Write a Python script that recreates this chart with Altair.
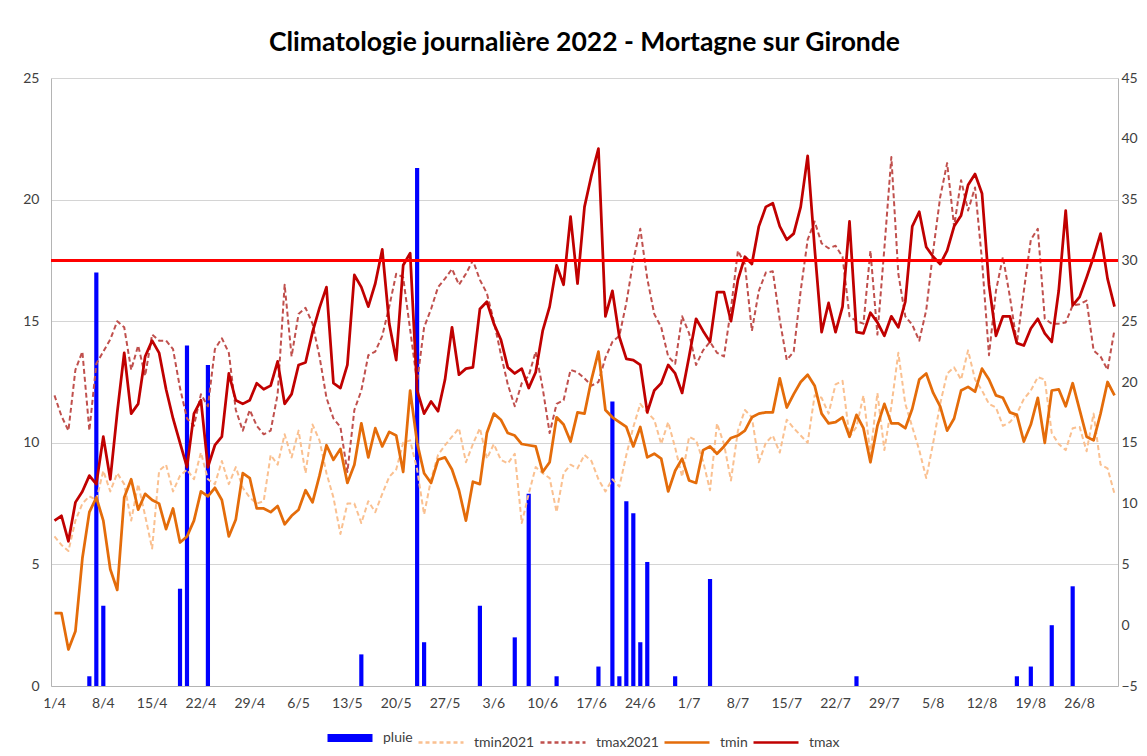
import altair as alt
import pandas as pd

# ---------------- data ----------------
dates = pd.date_range("2022-04-01", "2022-08-31", freq="D")
day_labels = [f"{d.day}/{d.month}" for d in dates]

tick_labels = ["1/4", "8/4", "15/4", "22/4", "29/4", "6/5", "13/5", "20/5", "27/5",
               "3/6", "10/6", "17/6", "24/6", "1/7", "8/7", "15/7", "22/7", "29/7",
               "5/8", "12/8", "19/8", "26/8"]

series_names = ["pluie", "tmin2021", "tmax2021", "tmin", "tmax"]
series_colors = ["#0000FF", "#FAC090", "#C0504D", "#E46C0A", "#C00000"]

rain_dates = ["6/4", "7/4", "8/4", "19/4", "20/4", "23/4", "15/5", "23/5", "24/5",
              "1/6", "6/6", "8/6", "12/6", "18/6", "20/6", "21/6", "22/6", "23/6",
              "24/6", "25/6", "29/6", "4/7", "25/7", "17/8", "19/8", "22/8", "25/8"]
rain_mm = [0.4, 17.0, 3.3, 4.0, 14.0, 13.2, 1.3, 21.3, 1.8,
           3.3, 2.0, 7.9, 0.4, 0.8, 11.7, 0.4, 7.6, 7.1,
           1.8, 5.1, 0.4, 4.4, 0.4, 0.4, 0.8, 2.5, 4.1]

tmax = [8.6, 9.0, 6.9, 10.1, 11.0, 12.3, 11.6, 15.5, 12.0, 17.5,
        22.4, 17.4, 18.2, 22.1, 23.4, 22.4, 19.4, 17.0, 15.0, 13.0,
        17.4, 18.5, 13.0, 14.8, 15.5, 20.7, 18.5, 18.2, 18.5, 19.9,
        19.4, 19.7, 21.7, 18.2, 19.0, 21.4, 21.6, 24.1, 26.1, 27.8,
        19.9, 19.5, 21.4, 28.8, 27.8, 26.2, 28.1, 30.9, 24.8, 21.8,
        29.6, 30.6, 19.3, 17.4, 18.4, 17.6, 20.2, 24.5, 20.6, 21.1,
        21.2, 26.0, 26.6, 24.8, 23.5, 21.2, 20.7, 21.1, 19.5, 20.8,
        24.2, 26.2, 29.6, 28.0, 33.6, 28.1, 34.4, 37.0, 39.2, 25.4,
        27.5, 23.7, 21.9, 21.8, 21.4, 17.5, 19.3, 19.9, 21.4, 20.7,
        19.1, 22.1, 25.2, 24.2, 23.3, 27.4, 27.4, 25.0, 28.4, 30.3,
        29.7, 32.8, 34.4, 34.7, 32.8, 31.7, 32.2, 34.4, 38.6, 31.0,
        24.1, 26.5, 24.1, 26.2, 33.2, 24.1, 24.0, 25.7, 24.9, 23.8,
        25.4, 24.5, 26.6, 32.8, 34.0, 31.1, 30.3, 29.7, 30.8, 32.8,
        33.7, 36.2, 37.1, 35.5, 28.0, 23.8, 25.4, 25.4, 23.2, 23.0,
        24.4, 25.2, 24.0, 23.3, 27.5, 34.1, 26.3, 27.0, 28.6, 30.3,
        32.2, 28.5, 26.2]

tmax2021 = [18.9, 17.2, 16.0, 21.0, 22.5, 16.0, 21.5, 22.5, 23.5, 25.0,
            24.5, 21.0, 23.0, 20.5, 23.9, 23.4, 23.4, 22.7, 19.5, 17.0,
            16.4, 19.0, 18.0, 22.7, 23.6, 22.4, 17.7, 16.0, 17.7, 16.4,
            15.7, 16.0, 19.0, 28.0, 22.1, 25.6, 26.1, 24.8, 22.1, 18.7,
            17.0, 16.3, 12.6, 17.7, 19.3, 22.2, 22.5, 23.8, 26.2, 28.9,
            28.6, 24.3, 20.0, 24.5, 26.0, 27.8, 28.5, 29.3, 28.0, 28.9,
            30.0, 28.4, 27.3, 25.0, 22.3, 19.8, 18.0, 19.9, 20.5, 22.5,
            19.5, 15.8, 18.2, 18.5, 21.0, 20.8, 20.3, 19.7, 20.0, 22.0,
            23.3, 23.8, 26.5, 30.0, 32.6, 28.5, 25.6, 24.5, 22.1, 21.5,
            25.4, 24.0, 21.4, 22.6, 23.3, 22.4, 22.1, 26.0, 30.8, 29.7,
            24.2, 27.5, 29.0, 29.1, 25.1, 21.8, 22.5, 27.5, 31.7, 33.2,
            31.4, 31.0, 31.2, 30.3, 25.4, 25.0, 24.8, 30.8, 23.9, 31.0,
            38.5, 28.9, 25.4, 24.7, 23.4, 25.9, 30.8, 35.2, 38.0, 32.8,
            36.6, 34.1, 36.0, 30.0, 22.2, 27.5, 30.3, 27.0, 23.2, 27.5,
            31.7, 32.6, 25.2, 24.8, 24.8, 24.9, 26.3, 26.4, 26.7, 22.6,
            22.1, 21.0, 24.3]

tmin = [1.0, 1.0, -2.0, -0.5, 5.5, 9.3, 10.5, 8.6, 4.6, 2.9,
        10.5, 12.0, 9.5, 10.8, 10.3, 10.0, 7.9, 9.6, 6.8, 7.3,
        8.6, 11.0, 10.6, 11.3, 10.3, 7.3, 8.7, 12.5, 12.1, 9.6,
        9.6, 9.3, 9.8, 8.3, 9.0, 9.5, 11.1, 10.1, 12.3, 14.8,
        13.6, 14.5, 11.7, 13.2, 16.6, 13.8, 16.2, 14.7, 15.9, 15.6,
        12.6, 19.3, 15.0, 12.5, 11.7, 13.6, 13.8, 12.8, 11.1, 8.6,
        11.8, 11.6, 15.8, 17.4, 16.9, 15.8, 15.6, 14.9, 14.8, 14.7,
        12.6, 13.4, 17.1, 16.5, 15.1, 17.5, 17.4, 20.2, 22.5, 17.7,
        17.1, 16.7, 16.3, 14.7, 16.3, 13.8, 14.1, 13.7, 11.0, 12.7,
        13.7, 11.9, 11.7, 14.4, 14.7, 14.1, 14.7, 15.4, 15.6, 16.0,
        17.1, 17.4, 17.5, 17.5, 20.3, 17.9, 19.0, 20.0, 20.6, 19.7,
        17.4, 16.6, 16.7, 17.1, 15.5, 17.3, 16.2, 13.4, 16.4, 18.2,
        16.6, 16.6, 16.2, 17.8, 20.2, 20.7, 19.1, 18.0, 16.0, 17.0,
        19.3, 19.6, 19.2, 21.1, 20.2, 18.9, 18.7, 17.5, 17.3, 15.1,
        16.5, 18.7, 15.0, 19.3, 19.4, 18.0, 19.9, 17.7, 15.5, 15.2,
        17.4, 20.0, 18.9]

tmin2021 = [7.3, 6.6, 6.1, 8.6, 10.0, 10.6, 10.3, 12.7, 11.0, 12.5,
            11.6, 8.6, 11.6, 9.0, 6.3, 12.7, 13.2, 11.0, 12.3, 12.8,
            12.0, 14.2, 12.0, 11.6, 13.5, 11.6, 13.0, 11.3, 10.5, 10.0,
            10.2, 14.0, 13.2, 15.7, 13.8, 16.0, 12.5, 16.5, 15.2, 12.5,
            10.5, 7.5, 10.0, 10.0, 8.4, 10.2, 9.3, 10.8, 12.2, 12.8,
            15.0, 15.2, 12.8, 9.1, 12.0, 14.0, 14.8, 15.5, 16.2, 13.4,
            14.9, 16.2, 13.7, 14.9, 13.6, 13.3, 14.1, 8.4, 10.8, 13.0,
            12.5, 12.1, 9.3, 12.5, 13.2, 12.9, 14.0, 13.5, 12.0, 11.0,
            12.0, 11.4, 14.0, 16.3, 18.2, 17.5, 16.9, 14.9, 16.7, 14.6,
            12.2, 15.5, 15.2, 13.5, 11.1, 16.6, 14.9, 11.9, 16.0, 17.7,
            17.1, 13.4, 15.0, 15.6, 14.2, 16.9, 16.2, 15.6, 15.0, 18.9,
            18.7, 17.4, 19.8, 20.1, 15.5, 16.3, 18.9, 14.0, 19.1, 14.4,
            18.0, 22.4, 18.2, 16.3, 14.4, 12.1, 15.0, 18.2, 20.7, 21.2,
            20.2, 22.6, 20.2, 19.3, 18.2, 17.9, 16.4, 16.7, 17.4, 18.6,
            19.3, 20.4, 20.2, 15.8, 14.9, 14.4, 16.2, 16.3, 14.3, 17.4,
            13.2, 12.9, 10.8]

threshold = [30]

# ---------------- tables ----------------
temps = pd.DataFrame({
    "date": day_labels * 4,
    "series": ["tmin2021"] * len(day_labels) + ["tmax2021"] * len(day_labels)
              + ["tmin"] * len(day_labels) + ["tmax"] * len(day_labels),
    "value": tmin2021 + tmax2021 + tmin + tmax,
})
rain = pd.DataFrame({"date": rain_dates, "series": "pluie", "value": rain_mm})
thr = pd.DataFrame({"value": threshold})

FONT = "Lato"
LABEL_COLOR = "#404040"
AXIS_LINE = "#b4b4b4"
GRID = "#d4d4d4"

x_enc = alt.X(
    "date:O",
    sort=day_labels,
    scale=alt.Scale(domain=day_labels, paddingInner=0.4),
    axis=alt.Axis(values=tick_labels, labelAngle=0, title=None, ticks=False,
                  domainColor=AXIS_LINE, labelColor=LABEL_COLOR, labelFont=FONT,
                  labelFontSize=14, labelPadding=10, labelOverlap=False, grid=False),
)

legend = alt.Legend(
    title=None, orient="none", direction="horizontal", legendX=292, legendY=653,
    symbolType="stroke", symbolSize=2025, padding=0,
    symbolStrokeColor=alt.ExprRef(expr="scale('color', datum.value)"),
    symbolStrokeWidth=alt.ExprRef(expr="datum.value == 'pluie' ? 8 : 2.5"),
    symbolDash=alt.ExprRef(expr="indexof(datum.value, '2021') >= 0 ? [4, 3] : [1, 0]"),
    labelFont=FONT, labelFontSize=14, labelColor=LABEL_COLOR,
    labelOffset=26, columnPadding=0,
)
color_enc = alt.Color("series:N",
                      scale=alt.Scale(domain=series_names, range=series_colors),
                      legend=legend)

bars = alt.Chart(rain).mark_bar(opacity=1).encode(
    x=x_enc,
    y=alt.Y("value:Q", scale=alt.Scale(domain=[0, 25]),
            axis=alt.Axis(values=[0, 5, 10, 15, 20, 25], title=None, ticks=False,
                          grid=True, gridColor=GRID, domainColor=AXIS_LINE,
                          labelColor=LABEL_COLOR, labelFont=FONT, labelFontSize=14,
                          labelPadding=12)),
    color=color_enc,
)

y_temp = alt.Y("value:Q", scale=alt.Scale(domain=[-5, 45]),
               axis=alt.Axis(orient="right", values=list(range(-5, 50, 5)), title=None,
                             ticks=False, grid=False, domainColor=AXIS_LINE,
                             labelColor=LABEL_COLOR, labelFont=FONT, labelFontSize=14,
                             labelPadding=3))


def line(name, width, dash=None):
    kw = dict(strokeWidth=width, strokeJoin="round", strokeCap="butt")
    if dash:
        kw["strokeDash"] = dash
    return alt.Chart(temps).transform_filter(
        alt.datum.series == name
    ).mark_line(**kw).encode(x=x_enc, y=y_temp, color=color_enc)


rule = alt.Chart(thr).mark_rule(color="#FF0000", strokeWidth=3).encode(y=y_temp)

temp_layer = alt.layer(
    line("tmin2021", 2, [5, 3]),
    line("tmax2021", 2, [5, 3]),
    line("tmin", 2.75),
    line("tmax", 2.75),
    rule,
)

chart = alt.layer(bars, temp_layer).resolve_scale(y="independent").properties(
    width=1067,
    height=608,
    padding={"left": 43, "top": 70, "right": 21, "bottom": 62},
    autosize=alt.AutoSizeParams(type="none"),
    background="white",
    title=alt.TitleParams(
        "Climatologie journalière 2022 - Mortagne sur Gironde",
        font=FONT, fontSize=26.5, fontWeight="bold", color="#000000",
        anchor="middle", offset=15,
    ),
).configure_view(stroke=None)

chart.save("out.html", embed_options={"renderer": "svg", "actions": False})
